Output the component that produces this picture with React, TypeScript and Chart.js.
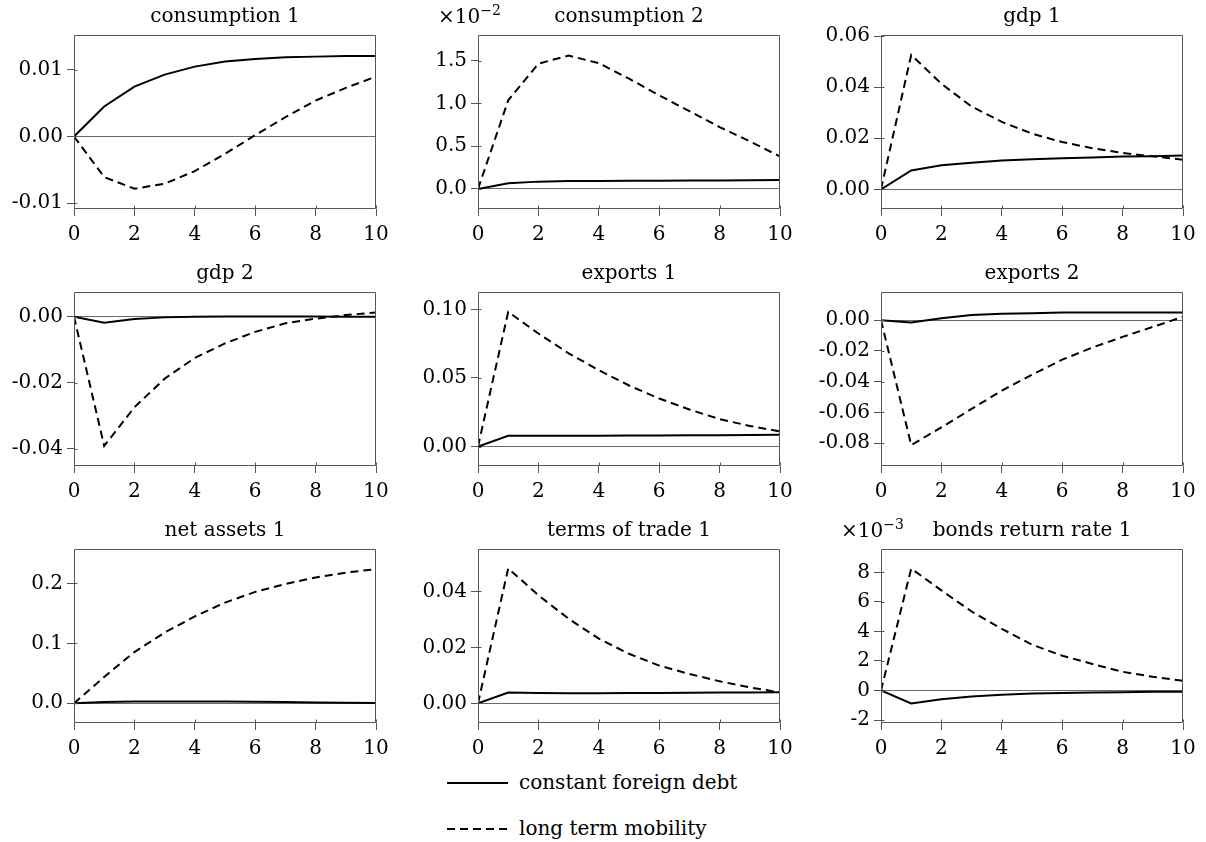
import React, { useEffect, useRef } from 'react';
import { Chart, registerables } from 'chart.js';

Chart.register(...registerables);

// ---------- data ----------
const periods = [0, 1, 2, 3, 4, 5, 6, 7, 8, 9, 10];
const xTickValues = [0, 2, 4, 6, 8, 10];
const seriesNames = ['constant foreign debt', 'long term mobility'];

const consumption1Debt = [0, 0.0045, 0.0075, 0.0093, 0.0105, 0.01125, 0.01165, 0.0119, 0.012, 0.0121, 0.0121];
const consumption1Mobility = [0, -0.0061, -0.00785, -0.0071, -0.0052, -0.0026, 0.0002, 0.0029, 0.0054, 0.0073, 0.009];
const consumption1Ticks = [-0.01, 0, 0.01];
const consumption1TickLabels = ['-0.01', '0.00', '0.01'];

// values in units of 10^-2
const consumption2Debt = [0, 0.066, 0.086, 0.092, 0.094, 0.095, 0.096, 0.098, 0.1, 0.102, 0.105];
const consumption2Mobility = [0, 1.036, 1.465, 1.56, 1.47, 1.29, 1.095, 0.91, 0.724, 0.557, 0.38];
const consumption2Ticks = [0, 0.5, 1.0, 1.5];
const consumption2TickLabels = ['0.0', '0.5', '1.0', '1.5'];

const gdp1Debt = [0, 0.0074, 0.0094, 0.0104, 0.0113, 0.0118, 0.0122, 0.0125, 0.0128, 0.0129, 0.0132];
const gdp1Mobility = [0, 0.0526, 0.0413, 0.0324, 0.0264, 0.0218, 0.0185, 0.0161, 0.0142, 0.0129, 0.0116];
const gdp1Ticks = [0, 0.02, 0.04, 0.06];
const gdp1TickLabels = ['0.00', '0.02', '0.04', '0.06'];

const gdp2Debt = [0, -0.0018, -0.0007, -0.0002, 0.0, 0.0001, 0.0001, 0.0001, 0.0001, 0.0, 0.0];
const gdp2Mobility = [0, -0.0392, -0.0275, -0.0188, -0.0125, -0.0081, -0.0046, -0.002, -0.0006, 0.0005, 0.0013];
const gdp2Ticks = [-0.04, -0.02, 0];
const gdp2TickLabels = ['-0.04', '-0.02', '0.00'];

const exports1Debt = [0, 0.0078, 0.0078, 0.0078, 0.0079, 0.008, 0.0081, 0.0082, 0.0083, 0.0084, 0.0086];
const exports1Mobility = [0, 0.0982, 0.0824, 0.068, 0.0557, 0.0445, 0.035, 0.027, 0.02, 0.015, 0.011];
const exports1Ticks = [0, 0.05, 0.1];
const exports1TickLabels = ['0.00', '0.05', '0.10'];

const exports2Debt = [0, -0.0015, 0.0013, 0.0033, 0.0041, 0.0045, 0.0049, 0.005, 0.005, 0.005, 0.005];
const exports2Mobility = [0, -0.0812, -0.0697, -0.0577, -0.0458, -0.0355, -0.0257, -0.0178, -0.0109, -0.0044, 0.0022];
const exports2Ticks = [-0.08, -0.06, -0.04, -0.02, 0];
const exports2TickLabels = ['-0.08', '-0.06', '-0.04', '-0.02', '0.00'];

const netAssets1Debt = [0, 0.002, 0.003, 0.003, 0.003, 0.003, 0.0025, 0.002, 0.0015, 0.001, 0.0005];
const netAssets1Mobility = [0, 0.044, 0.0855, 0.118, 0.145, 0.168, 0.186, 0.199, 0.21, 0.218, 0.224];
const netAssets1Ticks = [0, 0.1, 0.2];
const netAssets1TickLabels = ['0.0', '0.1', '0.2'];

const termsOfTrade1Debt = [0, 0.0039, 0.0037, 0.0036, 0.0036, 0.0037, 0.0037, 0.0038, 0.0039, 0.0039, 0.004];
const termsOfTrade1Mobility = [0, 0.0482, 0.0386, 0.0302, 0.0231, 0.0177, 0.0135, 0.0105, 0.0079, 0.0057, 0.0039];
const termsOfTrade1Ticks = [0, 0.02, 0.04];
const termsOfTrade1TickLabels = ['0.00', '0.02', '0.04'];

// values in units of 10^-3
const bondsReturn1Debt = [0, -0.88, -0.59, -0.41, -0.29, -0.21, -0.16, -0.13, -0.11, -0.09, -0.08];
const bondsReturn1Mobility = [0, 8.26, 6.78, 5.35, 4.18, 3.11, 2.36, 1.8, 1.27, 0.93, 0.66];
const bondsReturn1Ticks = [-2, 0, 2, 4, 6, 8];
const bondsReturn1TickLabels = ['-2', '0', '2', '4', '6', '8'];

const panelTitles = [
  'consumption 1', 'consumption 2', 'gdp 1',
  'gdp 2', 'exports 1', 'exports 2',
  'net assets 1', 'terms of trade 1', 'bonds return rate 1',
];
const panelExponents = ['', '\u22122', '', '', '', '', '', '', '\u22123'];
const yMins = [-0.0109, -0.234, -0.0077, -0.0453, -0.0142, -0.0948, -0.0329, -0.007, -2.2];
const yMaxs = [0.01525, 1.8, 0.0604, 0.0075, 0.1127, 0.0183, 0.2575, 0.0551, 9.585];

const panels = [
  { debt: consumption1Debt, mobility: consumption1Mobility, ticks: consumption1Ticks, labels: consumption1TickLabels },
  { debt: consumption2Debt, mobility: consumption2Mobility, ticks: consumption2Ticks, labels: consumption2TickLabels },
  { debt: gdp1Debt, mobility: gdp1Mobility, ticks: gdp1Ticks, labels: gdp1TickLabels },
  { debt: gdp2Debt, mobility: gdp2Mobility, ticks: gdp2Ticks, labels: gdp2TickLabels },
  { debt: exports1Debt, mobility: exports1Mobility, ticks: exports1Ticks, labels: exports1TickLabels },
  { debt: exports2Debt, mobility: exports2Mobility, ticks: exports2Ticks, labels: exports2TickLabels },
  { debt: netAssets1Debt, mobility: netAssets1Mobility, ticks: netAssets1Ticks, labels: netAssets1TickLabels },
  { debt: termsOfTrade1Debt, mobility: termsOfTrade1Mobility, ticks: termsOfTrade1Ticks, labels: termsOfTrade1TickLabels },
  { debt: bondsReturn1Debt, mobility: bondsReturn1Mobility, ticks: bondsReturn1Ticks, labels: bondsReturn1TickLabels },
];

// ---------- layout ----------
const FONT = "'DejaVu Serif', serif";
const COL_LEFT = [74, 478, 881];
const ROW_TOP = [35, 292, 549];
const PLOT_W = 302;
const PLOT_H = 174;
const YW = 74; // y-axis box width
const XH = 44; // x-axis box height
const RP = 20; // right padding
const TITLE_PAD_TOP = 2;
const TITLE_PAD_BOTTOM = 6;
const TH = TITLE_PAD_TOP + 24 + TITLE_PAD_BOTTOM;
const AXIS_COLOR = '#555';
const DASH = [8, 5];

const framePlugin = {
  id: 'frame',
  afterDatasetsDraw(chart: any) {
    const { ctx, chartArea: a, scales } = chart;
    ctx.save();
    ctx.strokeStyle = AXIS_COLOR;
    ctx.lineWidth = 1;
    const l = Math.round(a.left) + 0.5;
    const r = Math.round(a.right) - 0.5;
    const t = Math.round(a.top) + 0.5;
    const b = Math.round(a.bottom) - 0.5;
    ctx.beginPath();
    ctx.rect(l, t, r - l, b - t);
    ctx.stroke();
    // small inward tick marks
    ctx.beginPath();
    scales.x.ticks.forEach((tk: any) => {
      const px = Math.round(scales.x.getPixelForValue(tk.value)) + 0.5;
      ctx.moveTo(px, b);
      ctx.lineTo(px, b - 3);
    });
    scales.y.ticks.forEach((tk: any) => {
      const py = Math.round(scales.y.getPixelForValue(tk.value)) + 0.5;
      ctx.moveTo(l, py);
      ctx.lineTo(l + 3, py);
    });
    ctx.stroke();
    ctx.restore();
  },
};

function Panel({ index }: { index: number }) {
  const ref = useRef<HTMLCanvasElement | null>(null);
  const row = Math.floor(index / 3);
  const col = index % 3;
  const left = COL_LEFT[col] - YW;
  const top = ROW_TOP[row] - TH;
  const width = YW + PLOT_W + RP;
  const height = TH + PLOT_H + XH;

  useEffect(() => {
    const p = panels[index];
    const chart = new Chart(ref.current as HTMLCanvasElement, {
      type: 'line',
      data: {
        datasets: [
          {
            label: seriesNames[0],
            data: periods.map((x, i) => ({ x, y: p.debt[i] })),
            borderColor: '#000',
            borderWidth: 2,
            pointRadius: 0,
            fill: false,
            tension: 0,
          },
          {
            label: seriesNames[1],
            data: periods.map((x, i) => ({ x, y: p.mobility[i] })),
            borderColor: '#000',
            borderWidth: 2,
            borderDash: DASH,
            pointRadius: 0,
            fill: false,
            tension: 0,
          },
        ],
      },
      options: {
        animation: false,
        responsive: false,
        maintainAspectRatio: false,
        events: [],
        layout: { padding: { left: 0, right: RP, top: 0, bottom: 0 } },
        plugins: {
          legend: { display: false },
          tooltip: { enabled: false },
          title: {
            display: true,
            text: panelTitles[index],
            fullSize: false,
            color: '#000',
            font: { family: FONT, size: 20, weight: 'normal', lineHeight: 1.2 },
            padding: { top: TITLE_PAD_TOP, bottom: TITLE_PAD_BOTTOM },
          },
        },
        scales: {
          x: {
            type: 'linear',
            min: 0,
            max: 10,
            afterBuildTicks: (s: any) => {
              s.ticks = xTickValues.map((v) => ({ value: v }));
            },
            afterFit: (s: any) => {
              s.height = XH;
            },
            grid: { drawOnChartArea: false, drawTicks: true, tickLength: 7, tickColor: AXIS_COLOR, lineWidth: 1 },
            border: { display: false },
            ticks: {
              autoSkip: false,
              maxRotation: 0,
              padding: 7,
              color: '#000',
              font: { family: FONT, size: 20 },
              callback: (v: any) => String(v),
            },
          },
          y: {
            type: 'linear',
            min: yMins[index],
            max: yMaxs[index],
            afterBuildTicks: (s: any) => {
              s.ticks = p.ticks.map((v) => ({ value: v }));
            },
            afterFit: (s: any) => {
              s.width = YW;
            },
            grid: {
              drawOnChartArea: true,
              drawTicks: true,
              tickLength: 7,
              tickColor: AXIS_COLOR,
              lineWidth: 1,
              color: (c: any) => (c.tick && c.tick.value === 0 ? '#6a6a6a' : 'rgba(0,0,0,0)'),
            },
            border: { display: false },
            ticks: {
              autoSkip: false,
              padding: 4,
              color: '#000',
              font: { family: FONT, size: 20 },
              callback: (v: any) => {
                const k = p.ticks.findIndex((t) => Math.abs(t - v) < 1e-9);
                return k >= 0 ? p.labels[k] : '';
              },
            },
          },
        },
      },
      plugins: [framePlugin],
    } as any);
    return () => chart.destroy();
  }, [index]);

  return (
    <canvas
      ref={ref}
      width={width}
      height={height}
      style={{ position: 'absolute', left, top, width, height }}
    />
  );
}

function Exponent({ index }: { index: number }) {
  const exp = panelExponents[index];
  if (!exp) return null;
  const row = Math.floor(index / 3);
  const col = index % 3;
  return (
    <div
      style={{
        position: 'absolute',
        left: COL_LEFT[col] - 40,
        top: ROW_TOP[row] - 12 - 17,
        fontFamily: FONT,
        fontSize: 20,
        lineHeight: '20px',
        color: '#000',
        whiteSpace: 'nowrap',
      }}
    >
      ×10
      <span style={{ fontSize: 14, position: 'relative', top: -8 }}>{exp}</span>
    </div>
  );
}

function LegendRow({ y, dashed, text }: { y: number; dashed: boolean; text: string }) {
  return (
    <div
      style={{
        position: 'absolute',
        left: 447,
        top: y - 12,
        height: 24,
        display: 'flex',
        alignItems: 'center',
        fontFamily: FONT,
        fontSize: 20,
        color: '#000',
        whiteSpace: 'nowrap',
      }}
    >
      <svg width={61} height={24} style={{ display: 'block' }}>
        <line
          x1={0}
          y1={12}
          x2={61}
          y2={12}
          stroke="#000"
          strokeWidth={2}
          strokeDasharray={dashed ? DASH.join(' ') : undefined}
        />
      </svg>
      <span style={{ marginLeft: 11, position: 'relative', top: -1 }}>{text}</span>
    </div>
  );
}

export default function App() {
  return (
    <div
      style={{
        position: 'absolute',
        left: 0,
        top: 0,
        width: 1206,
        height: 842,
        background: '#fff',
        overflow: 'hidden',
      }}
    >
      {panels.map((_, i) => (
        <Panel key={i} index={i} />
      ))}
      {panels.map((_, i) => (
        <Exponent key={'e' + i} index={i} />
      ))}
      <LegendRow y={783} dashed={false} text={seriesNames[0]} />
      <LegendRow y={829} dashed={true} text={seriesNames[1]} />
    </div>
  );
}
